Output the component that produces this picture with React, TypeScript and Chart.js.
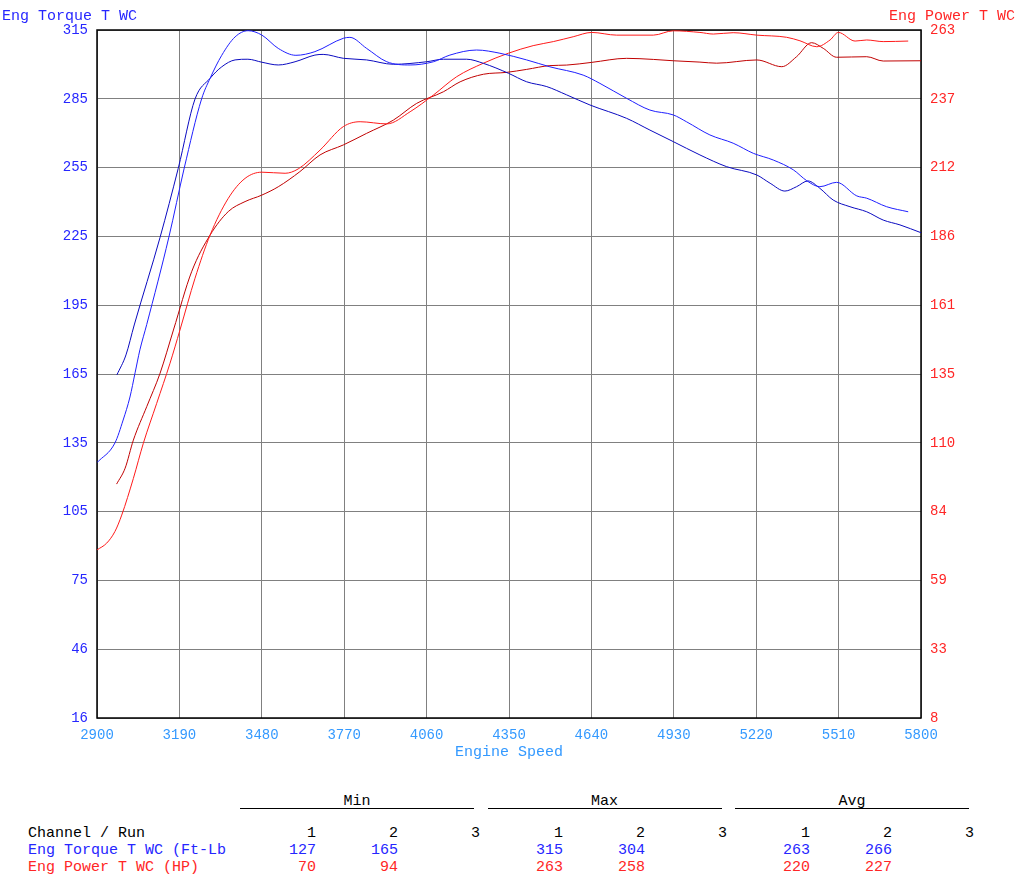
import { useEffect, useRef } from 'react'
import { Chart, registerables } from 'chart.js'

Chart.register(...registerables)

const FONT = '"Liberation Mono", "Courier New", monospace'

// run 1 pull
const run1TorqueRpm = [2900, 2963, 2992, 3016, 3034, 3051, 3075, 3153, 3207, 3268, 3298, 3339, 3386, 3432, 3480, 3538, 3600, 3667, 3767, 3790, 3849, 3920, 4002, 4084, 4142, 4236, 4318, 4412, 4494, 4611, 4670, 4764, 4846, 4928, 4975, 5057, 5139, 5210, 5280, 5351, 5398, 5444, 5503, 5574, 5609, 5679, 5755]
const run1Torque = [127, 135.5, 145.5, 155.5, 166, 176, 187, 225, 255, 285, 294, 304, 312, 314.7, 312.8, 307, 304, 305.6, 311.4, 311.8, 307, 301.2, 299.8, 301.2, 304.1, 306.3, 304.9, 302, 299, 295.4, 291.8, 285.3, 280.2, 278.1, 275.1, 269.4, 265.8, 261.4, 258.5, 254.2, 249.5, 246.9, 248.8, 242.9, 241.9, 238.2, 236]

const run1PowerRpm = [2900, 2934, 2963, 2987, 3028, 3063, 3110, 3157, 3192, 3245, 3298, 3362, 3421, 3480, 3562, 3608, 3685, 3767, 3826, 3920, 4002, 4084, 4166, 4260, 4348, 4435, 4506, 4576, 4641, 4729, 4858, 4928, 5022, 5069, 5139, 5222, 5327, 5374, 5433, 5480, 5509, 5568, 5609, 5667, 5755]
const run1Power = [70.3, 72.8, 77.1, 83.2, 96.8, 109.8, 124.6, 139.5, 151.8, 171, 187, 200.6, 208, 210.3, 209.9, 211.5, 218.5, 227.2, 229, 228.2, 232.7, 238.9, 245.7, 250.7, 254.4, 257.2, 258.7, 260.5, 262.1, 261.1, 261.1, 262.7, 262.1, 261.5, 262, 261.1, 260.3, 259, 256.8, 259.3, 262.1, 258.9, 259.3, 258.7, 258.9]

// run 2 pull
const run2TorqueRpm = [2970, 3002, 3031, 3122, 3186, 3245, 3298, 3339, 3386, 3431, 3480, 3538, 3597, 3667, 3696, 3767, 3849, 3943, 4060, 4119, 4201, 4260, 4348, 4412, 4483, 4553, 4635, 4764, 4846, 4928, 5022, 5116, 5222, 5269, 5321, 5362, 5402, 5444, 5491, 5550, 5609, 5667, 5726, 5800]
const run2Torque = [165.1, 173.8, 186.8, 224.9, 254.9, 285, 294, 299, 302, 302.3, 301, 299.8, 301.2, 304.1, 304.4, 302.7, 302, 300.1, 301.2, 302.3, 302.3, 300.5, 296.2, 292.5, 290.4, 286.8, 282.4, 276.6, 271.5, 266.5, 260.7, 255.6, 252, 248.4, 245, 246.9, 249.4, 246.2, 241.1, 238.2, 236, 232.4, 230.3, 226.9]

const run2PowerRpm = [2969, 2999, 3028, 3075, 3122, 3169, 3233, 3298, 3362, 3421, 3480, 3538, 3614, 3685, 3767, 3849, 3943, 4025, 4119, 4178, 4260, 4342, 4412, 4494, 4553, 4641, 4764, 4858, 4928, 5022, 5081, 5222, 5310, 5362, 5415, 5456, 5503, 5609, 5667, 5800]
const run2Power = [94.7, 100.6, 111, 123.4, 135.8, 151.8, 173.4, 187, 195.7, 199.4, 201.8, 204.9, 210.5, 216.7, 220.4, 224.7, 229.6, 235.8, 240.1, 243.8, 246.6, 247.3, 248.4, 249.8, 250, 251, 252.5, 252.1, 251.6, 251.1, 250.7, 251.9, 249.4, 253.1, 258.3, 256.2, 252.9, 253.1, 251.5, 251.6]

const rpmMin = 2900
const rpmMax = 5800
const rpmStep = 290
const torqueTickLabels = [16, 46, 75, 105, 135, 165, 195, 225, 255, 285, 315]
const powerTickLabels = [8, 33, 59, 84, 110, 135, 161, 186, 212, 237, 263]

// summary table
const statGroups = ['Min', 'Max', 'Avg']
const runLabels = ['1', '2', '3']
const torqueStats = [[127, 165], [315, 304], [263, 266]]
const powerStats = [[70, 94], [263, 258], [220, 227]]

const TORQUE_COLOR = '#2626ff'
const POWER_COLOR = '#ff2626'
const SPEED_COLOR = '#3399ff'

const zip = (xs: number[], ys: number[]) => xs.map((x, i) => ({ x, y: ys[i] }))

const evenTicks = (labels: number[]) => (scale: any) => {
  const lo = labels[0]
  const hi = labels[labels.length - 1]
  scale.ticks = labels.map((_, i) => ({ value: lo + (i * (hi - lo)) / (labels.length - 1) }))
}

const framePlugin = {
  id: 'frame',
  beforeDatasetsDraw(chart: any) {
    const { ctx, chartArea: a } = chart
    ctx.save()
    ctx.strokeStyle = '#000'
    ctx.lineWidth = 1.5
    ctx.strokeRect(a.left, a.top, a.right - a.left, a.bottom - a.top)
    ctx.restore()
  },
}

const line = (label: string, data: any[], color: string, axis: string) => ({
  label,
  data,
  borderColor: color,
  borderWidth: 1,
  pointRadius: 0,
  fill: false,
  cubicInterpolationMode: 'monotone' as const,
  yAxisID: axis,
})

export default function App() {
  const canvasRef = useRef<HTMLCanvasElement | null>(null)

  useEffect(() => {
    if (!canvasRef.current) return
    const chart = new Chart(canvasRef.current, {
      type: 'line',
      data: {
        datasets: [
          line('Torque run 1', zip(run1TorqueRpm, run1Torque), '#1f1fff', 'yT'),
          line('Torque run 2', zip(run2TorqueRpm, run2Torque), '#0a0ac0', 'yT'),
          line('Power run 1', zip(run1PowerRpm, run1Power), '#ff1a1a', 'yP'),
          line('Power run 2', zip(run2PowerRpm, run2Power), '#c00000', 'yP'),
        ],
      },
      options: {
        animation: false,
        responsive: false,
        layout: { padding: { top: 30, left: 0, right: 0, bottom: 0 } },
        plugins: { legend: { display: false }, tooltip: { enabled: false } },
        scales: {
          x: {
            type: 'linear',
            min: rpmMin,
            max: rpmMax,
            grid: { color: '#808080', lineWidth: 1, drawTicks: false },
            border: { display: false },
            ticks: {
              stepSize: rpmStep,
              padding: 9,
              color: SPEED_COLOR,
              font: { family: FONT, size: 14 },
              maxRotation: 0,
              callback: (v: any) => String(Math.round(v)),
            },
            title: {
              display: true,
              text: 'Engine Speed',
              color: SPEED_COLOR,
              font: { family: FONT, size: 15 },
              padding: { top: 0, bottom: 9 },
            },
            afterFit: (s: any) => { s.height = 52 },
          },
          yT: {
            type: 'linear',
            position: 'left',
            min: torqueTickLabels[0],
            max: torqueTickLabels[torqueTickLabels.length - 1],
            afterBuildTicks: evenTicks(torqueTickLabels),
            grid: { color: '#808080', lineWidth: 1, drawTicks: false },
            border: { display: false },
            ticks: {
              padding: 9,
              color: TORQUE_COLOR,
              font: { family: FONT, size: 14 },
              callback: (_v: any, i: number) => String(torqueTickLabels[i]),
            },
            afterFit: (s: any) => { s.width = 97 },
          },
          yP: {
            type: 'linear',
            position: 'right',
            min: powerTickLabels[0],
            max: powerTickLabels[powerTickLabels.length - 1],
            afterBuildTicks: evenTicks(powerTickLabels),
            grid: { drawOnChartArea: false, drawTicks: false },
            border: { display: false },
            ticks: {
              padding: 9,
              color: POWER_COLOR,
              font: { family: FONT, size: 14 },
              callback: (_v: any, i: number) => String(powerTickLabels[i]),
            },
            afterFit: (s: any) => { s.width = 97 },
          },
        },
      },
      plugins: [framePlugin],
    })
    return () => chart.destroy()
  }, [])

  const text = (content: string, left: number, top: number, color: string) => (
    <div
      style={{
        position: 'absolute',
        left,
        top,
        color,
        fontSize: 15,
        lineHeight: '17px',
        whiteSpace: 'pre',
      }}
    >
      {content}
    </div>
  )

  const numCell = (content: string, right: number, top: number, color: string, key: string) => (
    <div
      key={key}
      style={{
        position: 'absolute',
        left: right - 60,
        width: 60,
        top,
        color,
        fontSize: 15,
        lineHeight: '17px',
        textAlign: 'right',
      }}
    >
      {content}
    </div>
  )

  return (
    <div
      style={{
        position: 'absolute',
        left: 0,
        top: 0,
        width: 1018,
        height: 888,
        background: '#fff',
        fontFamily: FONT,
        overflow: 'hidden',
      }}
    >
      <canvas ref={canvasRef} width={1018} height={770} style={{ position: 'absolute', left: 0, top: 0 }} />
      {text('Eng Torque T WC', 2, 8, TORQUE_COLOR)}
      <div
        style={{
          position: 'absolute',
          right: 3,
          top: 8,
          color: POWER_COLOR,
          fontSize: 15,
          lineHeight: '17px',
          whiteSpace: 'pre',
        }}
      >
        Eng Power T WC
      </div>

      {statGroups.map((g, gi) => (
        <div key={g}>
          <div
            style={{
              position: 'absolute',
              left: 240 + gi * 247.5,
              width: 234,
              top: 793,
              fontSize: 15,
              lineHeight: '17px',
              textAlign: 'center',
              color: '#000',
            }}
          >
            {g}
          </div>
          <div
            style={{
              position: 'absolute',
              left: 240 + gi * 247.5,
              width: 234,
              top: 808,
              height: 1,
              background: '#000',
            }}
          />
          {runLabels.map((r, ri) => numCell(r, 316 + gi * 247 + ri * 82, 825, '#000', `h${gi}${ri}`))}
          {torqueStats[gi].map((v, ri) => numCell(String(v), 316 + gi * 247 + ri * 82, 842, TORQUE_COLOR, `t${gi}${ri}`))}
          {powerStats[gi].map((v, ri) => numCell(String(v), 316 + gi * 247 + ri * 82, 859, POWER_COLOR, `p${gi}${ri}`))}
        </div>
      ))}
      {text('Channel / Run', 28, 825, '#000')}
      {text('Eng Torque T WC (Ft-Lb', 28, 842, TORQUE_COLOR)}
      {text('Eng Power T WC (HP)', 28, 859, POWER_COLOR)}
    </div>
  )
}
